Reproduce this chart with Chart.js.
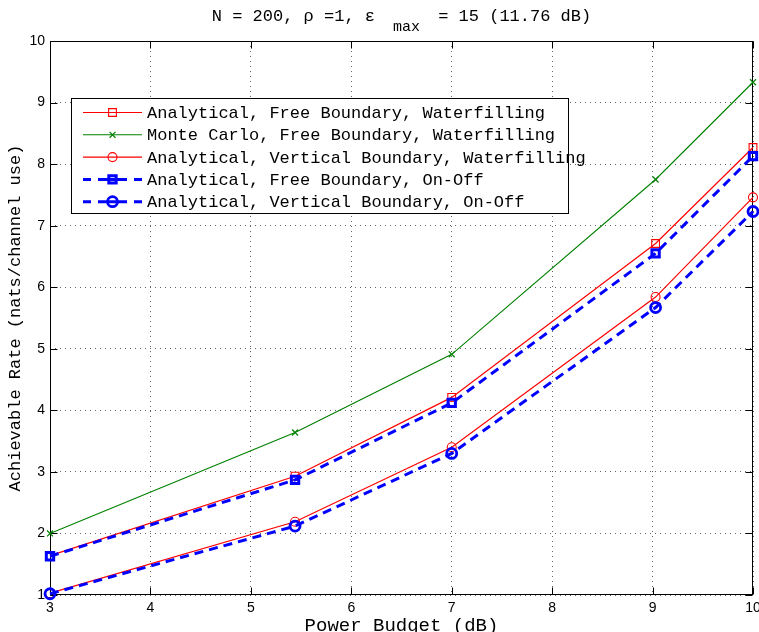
<!DOCTYPE html>
<html>
<head>
<meta charset="utf-8">
<title>Achievable Rate vs Power Budget</title>
<script src="https://cdn.jsdelivr.net/npm/chart.js@4.4.1/dist/chart.umd.min.js"></script>
<style>
  html, body { margin: 0; padding: 0; background: #fff; overflow: hidden; }
  #wrap { width: 759px; height: 632px; overflow: hidden; }
</style>
</head>
<body>
<div id="wrap"><canvas id="rateChart" width="770" height="632"></canvas></div>
<script>
// power budget in dB and achievable rate (nats/channel use) for each scheme
const powerBudgetDb = [3, 5.44, 7, 9.03, 10];
const freeWaterfill = [1.64, 2.93, 4.21, 6.71, 8.27];
const monteCarloWaterfill = [2.00, 3.64, 4.91, 7.75, 9.33];
const verticalWaterfill = [1.03, 2.19, 3.40, 5.84, 7.46];
const freeOnOff = [1.63, 2.87, 4.12, 6.55, 8.13];
const verticalOnOff = [1.02, 2.12, 3.30, 5.67, 7.23];

const seriesNames = [
  'Analytical, Free Boundary, Waterfilling',
  'Monte Carlo, Free Boundary, Waterfilling',
  'Analytical, Vertical Boundary, Waterfilling',
  'Analytical, Free Boundary, On-Off',
  'Analytical, Vertical Boundary, On-Off'
];
const xTickValues = [3, 4, 5, 6, 7, 8, 9, 10];
const yTickValues = [1, 2, 3, 4, 5, 6, 7, 8, 9, 10];

const MONO = '"Liberation Mono", "Courier New", monospace';
const RED = '#ff0000', GREEN = '#008000', BLUE = '#0000ff';

const toPoints = ys => ys.map((y, i) => ({ x: powerBudgetDb[i], y }));

function series(idx, data, color, width, dash, style, radius, markerWidth) {
  return {
    label: seriesNames[idx],
    data: toPoints(data),
    borderColor: color,
    borderWidth: width,
    borderDash: dash,
    backgroundColor: 'rgba(0,0,0,0)',
    pointStyle: style,
    pointRadius: radius,
    pointBorderColor: color,
    pointBackgroundColor: 'rgba(255,255,255,0)',
    pointBorderWidth: markerWidth,
    tension: 0,
    fill: false,
    clip: false,
    order: 5 - idx
  };
}

const datasets = [
  series(0, freeWaterfill, RED, 1.2, [], 'rect', 5.5, 1.1),
  series(1, monteCarloWaterfill, GREEN, 1.1, [], 'crossRot', 4.2, 1.2),
  series(2, verticalWaterfill, RED, 1.2, [], 'circle', 4.5, 1.1),
  series(3, freeOnOff, BLUE, 3, [9, 6], 'rect', 5.2, 3),
  series(4, verticalOnOff, BLUE, 3, [9, 6], 'circle', 5, 2.8)
];

// title with subscripted epsilon, drawn above the plot
const titlePlugin = {
  id: 'subTitle',
  afterDraw(chart) {
    const { ctx, chartArea } = chart;
    const main1 = 'N = 200, \u03c1 =1, \u03b5';
    const sub = 'max';
    const main2 = ' = 15 (11.76 dB)';
    const gapBefore = 18, gapAfter = 8;
    ctx.save();
    ctx.fillStyle = '#000';
    ctx.textBaseline = 'alphabetic';
    ctx.textAlign = 'left';
    ctx.font = '17px ' + MONO;
    const w1 = ctx.measureText(main1).width;
    const w2 = ctx.measureText(main2).width;
    ctx.font = '15px ' + MONO;
    const ws = ctx.measureText(sub).width;
    let x = (chartArea.left + chartArea.right) / 2 - (w1 + gapBefore + ws + gapAfter + w2) / 2;
    ctx.font = '17px ' + MONO;
    ctx.fillText(main1, x, 21);
    x += w1 + gapBefore;
    ctx.font = '15px ' + MONO;
    ctx.fillText(sub, x, 31);
    x += ws + gapAfter;
    ctx.font = '17px ' + MONO;
    ctx.fillText(main2, x, 21);
    ctx.restore();
  }
};

// axes box with inward tick marks on all four sides
const framePlugin = {
  id: 'frame',
  beforeDatasetsDraw(chart) {
    const { ctx, chartArea: a, scales } = chart;
    const L = Math.round(a.left) + 0.5, R = Math.round(a.right) - 0.5;
    const T = Math.round(a.top) + 0.5, B = Math.round(a.bottom) - 0.5;
    const tl = 7;
    ctx.save();
    ctx.strokeStyle = '#000';
    ctx.lineWidth = 1;
    ctx.beginPath();
    xTickValues.forEach(v => {
      const px = Math.round(scales.x.getPixelForValue(v)) + 0.5;
      ctx.moveTo(px, B); ctx.lineTo(px, B - tl);
      ctx.moveTo(px, T); ctx.lineTo(px, T + tl);
    });
    yTickValues.forEach(v => {
      const py = Math.round(scales.y.getPixelForValue(v)) + 0.5;
      ctx.moveTo(L, py); ctx.lineTo(L + tl, py);
      ctx.moveTo(R, py); ctx.lineTo(R - tl, py);
    });
    ctx.stroke();
    ctx.strokeRect(L, T, R - L, B - T);
    ctx.restore();
  }
};

// boxed legend inside the plot area
const legendPlugin = {
  id: 'boxLegend',
  afterDraw(chart) {
    const { ctx, chartArea: a } = chart;
    const left = a.left + 21, top = a.top + 57;
    const w = 497, h = 115, rowH = 22.3;
    ctx.save();
    ctx.fillStyle = '#fff';
    ctx.fillRect(left, top, w, h);
    ctx.strokeStyle = '#000';
    ctx.lineWidth = 1;
    ctx.strokeRect(Math.round(left) + 0.5, Math.round(top) + 0.5, w, h);
    ctx.font = '17px ' + MONO;
    ctx.textBaseline = 'middle';
    ctx.textAlign = 'left';
    chart.data.datasets.forEach((ds, i) => {
      const y = top + 14.5 + i * rowH;
      const x0 = left + 12, x1 = left + 71, xm = (x0 + x1) / 2;
      ctx.save();
      ctx.strokeStyle = ds.borderColor;
      ctx.lineWidth = ds.borderWidth;
      ctx.beginPath();
      if (ds.borderDash.length) {
        ctx.moveTo(x0, y); ctx.lineTo(x0 + 8, y);
        ctx.moveTo(x0 + 15, y); ctx.lineTo(x1 - 15, y);
        ctx.moveTo(x1 - 8, y); ctx.lineTo(x1, y);
      } else {
        ctx.moveTo(x0, y); ctx.lineTo(x1, y);
      }
      ctx.stroke();
      ctx.lineWidth = ds.pointBorderWidth;
      ctx.fillStyle = 'rgba(255,255,255,0)';
      Chart.helpers.drawPoint(ctx, {
        pointStyle: ds.pointStyle, radius: ds.pointRadius, rotation: 0, borderWidth: ds.pointBorderWidth
      }, xm, y);
      ctx.restore();
      ctx.fillStyle = '#000';
      ctx.fillText(ds.label, left + 76, y + 1);
    });
    ctx.restore();
  }
};

const gridStyle = { color: 'rgba(0,0,0,0.6)', lineWidth: 1, drawTicks: false, tickLength: 0 };

new Chart(document.getElementById('rateChart'), {
  type: 'line',
  data: { datasets },
  options: {
    responsive: false,
    animation: false,
    devicePixelRatio: 1,
    layout: { padding: { top: 41, right: 17, left: 0, bottom: 0 } },
    plugins: { legend: { display: false }, tooltip: { enabled: false }, title: { display: false } },
    scales: {
      x: {
        type: 'linear', min: 3, max: 10,
        afterBuildTicks: s => { s.ticks = xTickValues.map(v => ({ value: v })); },
        afterFit: s => { s.height = 37; },
        grid: gridStyle,
        border: { display: false, dash: [1, 4] },
        ticks: { color: '#000', padding: 5, font: { family: '"Liberation Sans", Arial, sans-serif', size: 14 }, maxRotation: 0 },
        title: { display: true, text: 'Power Budget (dB)', color: '#000', font: { family: MONO, size: 19 }, padding: { top: 0, bottom: -5 } }
      },
      y: {
        type: 'linear', min: 1, max: 10,
        afterBuildTicks: s => { s.ticks = yTickValues.map(v => ({ value: v })); },
        afterFit: s => { s.width = 50; },
        grid: gridStyle,
        border: { display: false, dash: [1, 4] },
        ticks: { color: '#000', padding: 5, font: { family: '"Liberation Sans", Arial, sans-serif', size: 14 } },
        title: { display: true, text: 'Achievable Rate (nats/channel use)', color: '#000', font: { family: MONO, size: 17 }, padding: { top: 5, bottom: 0 } }
      }
    }
  },
  plugins: [titlePlugin, framePlugin, legendPlugin]
});
</script>
</body>
</html>
